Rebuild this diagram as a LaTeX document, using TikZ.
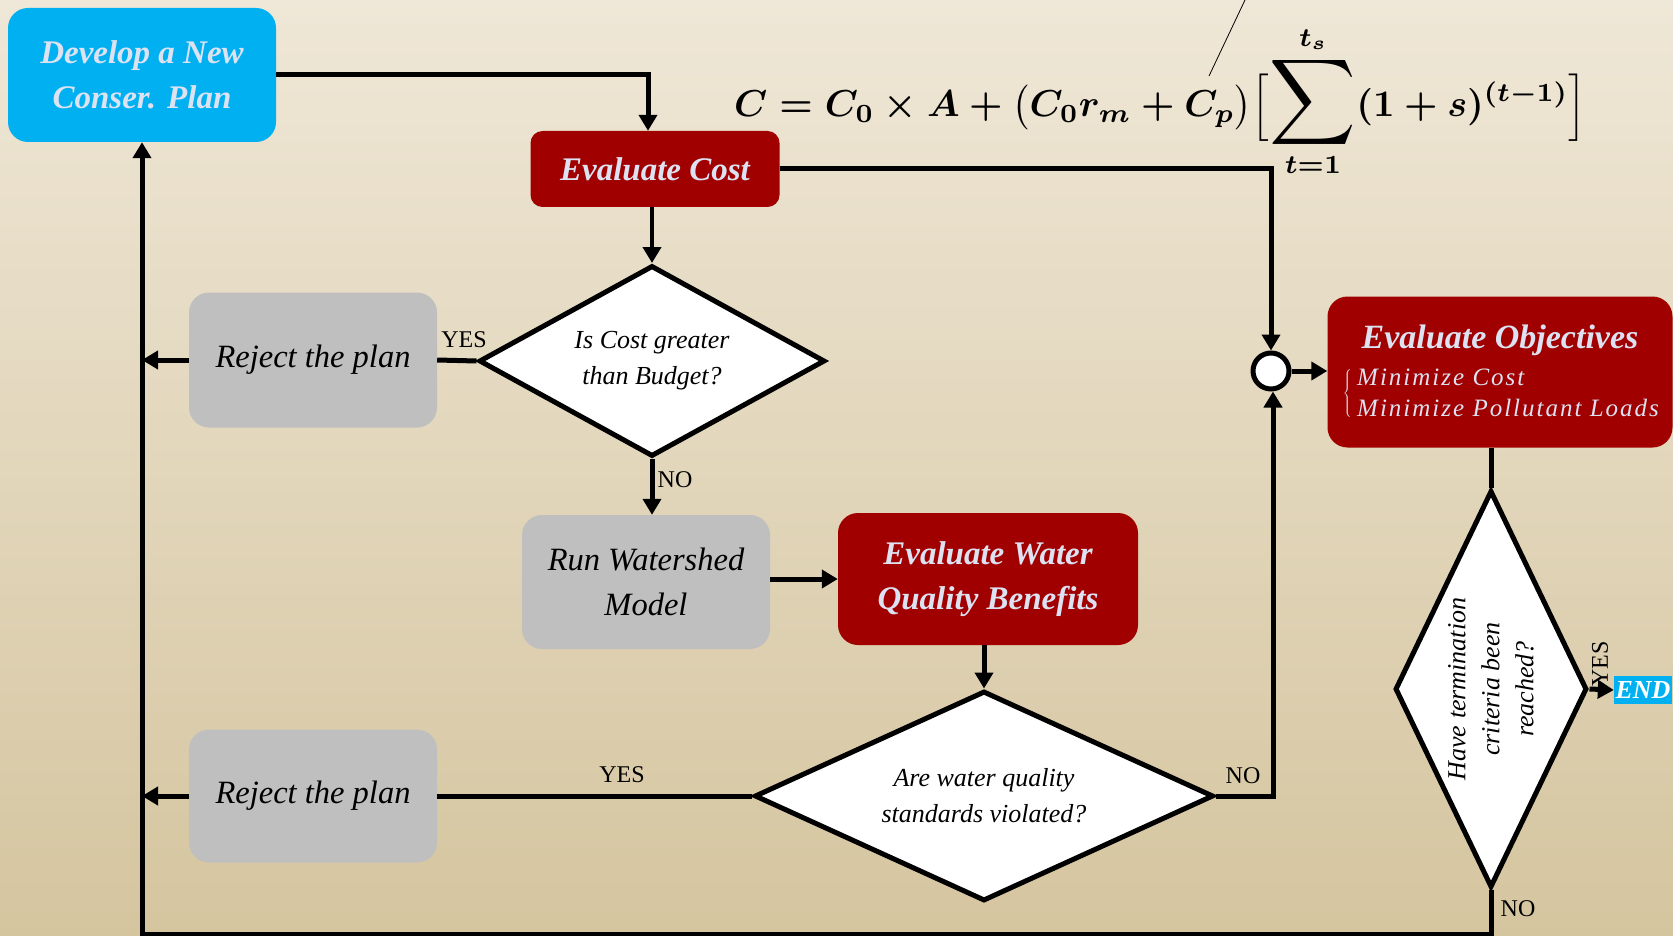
\documentclass[tikz,border=0pt]{standalone}
\usepackage{amsmath}
\usepackage{fontspec}
\setmainfont{Liberation Serif}
\newfontfamily\spacedfont[LetterSpace=8]{Liberation Serif}
\usetikzlibrary{shapes.geometric,arrows.meta}

\definecolor{bgtop}{HTML}{EFE7D7}
\definecolor{bgbot}{HTML}{D5C59F}
\definecolor{planblue}{HTML}{00B0F0}
\definecolor{evalred}{HTML}{A00000}
\definecolor{rejgrey}{HTML}{BFBFBF}
\definecolor{paletext}{HTML}{DCE2F1}

\tikzset{
  card/.style={rounded corners=20pt, inner sep=0pt, align=center},
  plancard/.style={card, fill=planblue, text=paletext,
    font=\bfseries\itshape\fontsize{33}{45}\selectfont},
  evalcard/.style={card, fill=evalred, text=paletext,
    font=\bfseries\itshape\fontsize{33}{45}\selectfont},
  greycard/.style={card, fill=rejgrey, text=black,
    font=\itshape\fontsize{32.5}{45}\selectfont},
  decision/.style={diamond, draw=black, fill=white, line width=5pt, inner sep=0pt},
  question/.style={align=center, inner sep=0pt, font=\itshape\fontsize{26}{36}\selectfont},
  flow/.style={line width=5pt, -{Triangle[length=16pt,width=18pt]}},
  link/.style={line width=5pt},
  answer/.style={font=\fontsize{24}{28}\selectfont, inner sep=0pt},
}

\begin{document}
\begin{tikzpicture}[x=1pt,y=-1pt]
  % background
  \shade[top color=bgtop, bottom color=bgbot] (0,0) rectangle (1673,936);
  \useasboundingbox (0,0) rectangle (1673,936);

  % cost formula
  \node[anchor=base west, inner sep=0pt] (formula) at (734,117)
    {\resizebox{852pt}{!}{\boldmath$\displaystyle C=C_0\times A+\bigl(C_0r_m+C_p\bigr)\Bigl[\mathop{\text{\scalebox{1.6}{$\displaystyle\sum$}}}\limits_{t=1}^{t_s}(1+s)^{(t-1)}\Bigr]$}};
  \coordinate (pin) at (1245,0);
  \coordinate (pinend) at (1209,76);
  \draw[line width=0.8pt] (pinend) -- (pin);

  % boxes
  \node[plancard, minimum width=268, minimum height=134] (dev) at (142,75) {Develop a New\\Conser. Plan};
  \node[evalcard, rounded corners=12pt, minimum width=249, minimum height=76] (cost) at (655,169) {Evaluate Cost};
  \node[decision, minimum width=346, minimum height=191] (d1) at (652,361) {};
  \node[question] (q1) at (d1) {Is Cost greater\\than Budget?};
  \node[greycard, minimum width=248, minimum height=135] (rej1) at (313,360) {Reject the plan};
  \node[greycard, minimum width=248, minimum height=134] (run) at (646,582) {Run Watershed\\Model};
  \node[evalcard, minimum width=300, minimum height=132] (wq) at (988,579) {Evaluate Water\\Quality Benefits};
  \node[decision, minimum width=459, minimum height=210] (d2) at (984,796) {};
  \node[question] (q2) at (d2) {Are water quality\\standards violated?};
  \node[greycard, minimum width=248, minimum height=133] (rej2) at (313,796) {Reject the plan};
  \node[circle, draw=black, fill=white, line width=5pt, minimum size=36, inner sep=0pt] (join) at (1271,371) {};
  \node[evalcard, minimum width=345, minimum height=151] (obj) at (1500,372) {};
  \node[text=paletext, font=\bfseries\itshape\fontsize{34}{36}\selectfont, inner sep=0pt] (objtitle) at (1500,340) {Evaluate Objectives};
  \node[text=paletext, anchor=west, align=left, inner sep=0pt,
    font=\spacedfont\itshape\fontsize{25}{31}\selectfont] (objlist) at (1357,393)
    {Minimize Cost\\Minimize Pollutant Loads};
  \node[text=paletext, inner sep=0pt, anchor=east] (brace) at (1352,393)
    {$\left\{\rule[-21pt]{0pt}{44pt}\right.\kern-\nulldelimiterspace$};
  \node[decision, minimum width=192, minimum height=397] (d3) at (1491,689) {};
  \node[question, rotate=90, font=\itshape\fontsize{26}{34}\selectfont] (q3) at (d3) {Have termination\\criteria been\\reached?};
  \node[fill=planblue, text=white, font=\bfseries\itshape\fontsize{26}{28}\selectfont,
    minimum width=58, minimum height=28, inner sep=0pt] (finish) at (1643,690) {END};

  \coordinate (rail) at (142,934);

  % connectors
  \draw[flow] (dev.east) -| ([xshift=-7pt]cost.north);
  \draw[flow] (cost.east) -| (join.north);
  \draw[flow, line width=4pt] (cost.south -| d1.north) -- (d1.north);
  \draw[link] (d1.west) -- (rej1.east);
  \draw[flow] (rej1.west) -- (rej1.west -| rail);
  \draw[flow] (d1.south) -- (d1.south |- run.north);
  \draw[flow] (run.east |- wq.west) -- (wq.west);
  \draw[flow] (wq.south -| d2.north) -- (d2.north);
  \draw[link] (d2.west) -- (rej2.east);
  \draw[flow] (rej2.west) -- (rej2.west -| rail);
  \draw[flow] (d2.east) -| ([xshift=2pt]join.south);
  \draw[flow] (join.east) -- (obj.west |- join.east);
  \draw[link] (obj.south -| d3.north) -- (d3.north);
  \draw[flow] (d3.east) -- (finish.west);
  \draw[flow] (d3.south) |- (rail) -- (dev.south);

  % branch labels
  \node[answer] (yes1) at (464,340) {YES};
  \node[answer] (no1) at (675,480) {NO};
  \node[answer] (yes2) at (622,775) {YES};
  \node[answer] (no2) at (1243,776) {NO};
  \node[answer, rotate=90] (yes3) at (1600,664) {YES};
  \node[answer] (no3) at (1518,909) {NO};
\end{tikzpicture}
\end{document}
